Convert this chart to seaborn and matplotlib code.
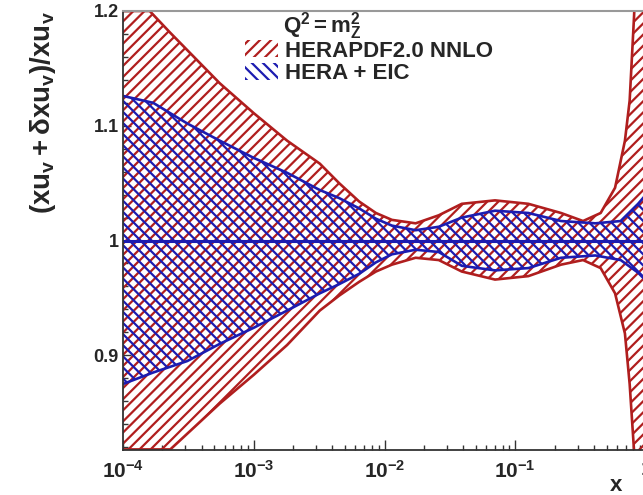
import matplotlib
matplotlib.use('Agg')
import matplotlib.pyplot as plt
import seaborn as sns
from matplotlib.patches import Patch
from matplotlib.ticker import LogLocator, NullFormatter, MultipleLocator

# ---------------- data ----------------
herapdf_x = [1e-4, 1.6e-4, 2.3e-4, 5.5e-4, 1.0e-3, 1.8e-3, 3.2e-3, 4.5e-3, 6.4e-3,
             8.6e-3, 1.14e-2, 1.73e-2, 2.6e-2, 3.9e-2, 7.0e-2, 0.126, 0.224, 0.33,
             0.45, 0.58, 0.69, 0.75, 0.81, 0.87, 1.0]
herapdf_upper = [1.2, 1.2, 1.181, 1.137, 1.111, 1.087, 1.067, 1.050, 1.034,
                 1.024, 1.018, 1.015, 1.022, 1.032, 1.035, 1.032, 1.024, 1.017,
                 1.024, 1.046, 1.087, 1.122, 1.195, 1.28, 1.5]
herapdf_lower = [0.818, 0.818, 0.818, 0.858, 0.883, 0.909, 0.939, 0.952, 0.964,
                 0.973, 0.979, 0.985, 0.983, 0.973, 0.966, 0.969, 0.979, 0.983,
                 0.976, 0.954, 0.919, 0.875, 0.817, 0.75, 0.5]

eic_x = [1e-4, 1.7e-4, 3.1e-4, 5.5e-4, 1.0e-3, 1.8e-3, 3.2e-3, 4.5e-3, 6.4e-3,
         8.6e-3, 1.14e-2, 1.73e-2, 2.6e-2, 3.9e-2, 7.0e-2, 0.126, 0.224, 0.41,
         0.64, 0.87, 1.0]
eic_upper = [1.126, 1.120, 1.102, 1.087, 1.072, 1.059, 1.044, 1.037, 1.028,
             1.019, 1.013, 1.009, 1.012, 1.020, 1.026, 1.024, 1.017, 1.015,
             1.017, 1.032, 1.040]
eic_lower = [0.875, 0.885, 0.895, 0.910, 0.924, 0.939, 0.954, 0.962, 0.971,
             0.981, 0.988, 0.992, 0.990, 0.978, 0.974, 0.976, 0.985, 0.987,
             0.983, 0.972, 0.965]

central_x = [1e-4, 1.0]
central_y = [1.0, 1.0]

y_ticks = [0.9, 1.0, 1.1, 1.2]
y_tick_labels = ['0.9', '1', '1.1', '1.2']
x_ticks = [1e-4, 1e-3, 1e-2, 1e-1, 1.0]
x_tick_labels = [r'$10^{-4}$', r'$10^{-3}$', r'$10^{-2}$', r'$10^{-1}$', '1']
legend_labels = ['HERAPDF2.0 NNLO', 'HERA + EIC']
legend_title = r'$Q^2 = m^2_Z$'
y_label = r'$(xu_v + \delta xu_v)/xu_v$'
x_label = 'x'

RED = '#b01e1e'
BLUE = '#1c1cb0'

# ---------------- style ----------------
sns.set_style('ticks')
plt.rcParams['font.family'] = ['Liberation Sans', 'DejaVu Sans']
plt.rcParams['font.weight'] = 'bold'
plt.rcParams['axes.labelweight'] = 'bold'
plt.rcParams['mathtext.fontset'] = 'custom'
plt.rcParams['mathtext.rm'] = 'Liberation Sans:bold'
plt.rcParams['mathtext.it'] = 'Liberation Sans:bold'
plt.rcParams['mathtext.bf'] = 'Liberation Sans:bold'
plt.rcParams['mathtext.sf'] = 'Liberation Sans:bold'
plt.rcParams['mathtext.default'] = 'bf'
plt.rcParams['hatch.linewidth'] = 1.6

fig = plt.figure(figsize=(6.43, 4.95), dpi=100)
ax = fig.add_axes([123 / 643, 45 / 495, 523 / 643, 439 / 495])
ax.set_xscale('log')

# hatched bands
ax.fill_between(herapdf_x, herapdf_lower, herapdf_upper, facecolor='none',
                edgecolor=RED, hatch='///', linewidth=0)
ax.fill_between(eic_x, eic_lower, eic_upper, facecolor='none',
                edgecolor=BLUE, hatch='\\\\\\', linewidth=0)

# band boundaries
for yy in (herapdf_upper, herapdf_lower):
    sns.lineplot(x=herapdf_x, y=yy, ax=ax, color=RED, linewidth=1.9,
                 estimator=None, sort=False)
for yy in (eic_upper, eic_lower):
    sns.lineplot(x=eic_x, y=yy, ax=ax, color=BLUE, linewidth=1.9,
                 estimator=None, sort=False)
sns.lineplot(x=central_x, y=central_y, ax=ax, color=BLUE, linewidth=2.2,
             estimator=None, sort=False)

ax.set_xlim(1e-4, 1.0)
ax.set_ylim(0.8175, 1.2)

# ticks
ax.set_xticks(x_ticks)
ax.set_xticklabels(x_tick_labels)
ax.xaxis.set_minor_locator(LogLocator(base=10, subs=range(2, 10)))
ax.xaxis.set_minor_formatter(NullFormatter())
ax.set_yticks(y_ticks)
ax.set_yticklabels(y_tick_labels)
ax.yaxis.set_minor_locator(MultipleLocator(0.02))

ax.tick_params(axis='both', which='both', direction='in', top=False, right=False,
               color='#333333')
ax.tick_params(axis='x', which='major', length=7, width=1, labelsize=15, pad=7)
ax.tick_params(axis='x', which='minor', length=3.5, width=1)
ax.tick_params(axis='y', which='major', length=6, width=1, labelsize=13, pad=3)
ax.tick_params(axis='y', which='minor', length=3.5, width=1)

for s in ('left', 'bottom'):
    ax.spines[s].set_color('#333333')
    ax.spines[s].set_linewidth(1.3)
ax.spines['top'].set_color('#999999')
ax.spines['top'].set_linewidth(1.5)
ax.spines['right'].set_visible(False)

# labels
ax.set_ylabel(y_label, fontsize=20, loc='top')
ax.yaxis.set_label_coords(-0.125, 1.0)
ax.set_xlabel(x_label, fontsize=16, fontweight='bold')
ax.xaxis.label.set_va('center')
ax.xaxis.set_label_coords(0.943, -0.082)

# legend
handles = [Patch(facecolor='none', edgecolor=RED, hatch='///', linewidth=0),
           Patch(facecolor='none', edgecolor=BLUE, hatch='\\\\\\', linewidth=0)]
ax.legend(handles, legend_labels, loc='upper left', bbox_to_anchor=(0.233, 0.933),
          frameon=False, fontsize=16, handlelength=1.5, handleheight=0.8,
          handletextpad=0.3, labelspacing=0.05, borderpad=0, borderaxespad=0)
ax.text(0.305, 0.966, legend_title, transform=ax.transAxes, fontsize=16,
        va='center', ha='left')

fig.savefig('out.png', dpi=100)
